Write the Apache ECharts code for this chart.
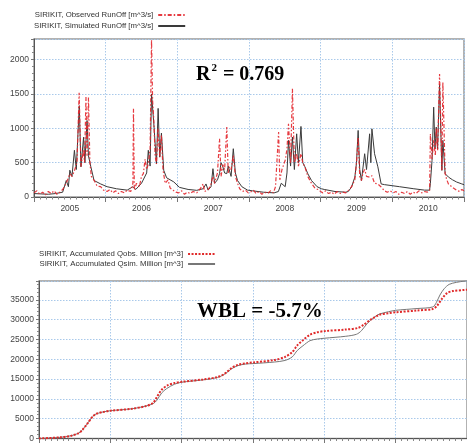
<!DOCTYPE html>
<html>
<head>
<meta charset="utf-8">
<script src="https://cdn.jsdelivr.net/npm/echarts@6/dist/echarts.min.js"></script>
<style>
html,body{margin:0;padding:0;background:#fff;}
#chart{width:467px;height:443px;}
</style>
</head>
<body>
<div id="chart"></div>
<script>
// ---- data (decimal year, value) ----
const years = [2005, 2006, 2007, 2008, 2009, 2010, 2011];

const runoffObs = [
[2005.00,60],[2005.04,90],[2005.08,40],[2005.12,70],[2005.16,30],[2005.20,80],[2005.24,50],[2005.28,90],[2005.32,40],[2005.36,70],[2005.40,110],
[2005.45,200],[2005.50,340],[2005.53,300],[2005.56,370],[2005.60,500],[2005.63,1517],[2005.655,440],[2005.69,680],[2005.705,500],[2005.725,1454],
[2005.74,600],[2005.76,1450],[2005.78,500],[2005.80,300],[2005.84,240],[2005.88,160],[2005.93,150],[2005.97,100],
[2006.02,80],[2006.06,110],[2006.10,60],[2006.14,90],[2006.18,50],[2006.22,80],[2006.26,60],[2006.30,100],[2006.35,80],[2006.38,200],[2006.388,1285],
[2006.40,100],[2006.43,200],[2006.47,150],[2006.50,300],[2006.526,340],[2006.55,550],[2006.572,400],[2006.595,480],[2006.62,700],[2006.64,2290],
[2006.655,1400],[2006.672,1114],[2006.69,600],[2006.709,480],[2006.73,1000],[2006.755,580],[2006.778,900],[2006.80,400],[2006.83,200],[2006.87,250],
[2006.90,130],[2006.94,100],[2006.98,70],
[2007.02,60],[2007.06,90],[2007.10,40],[2007.14,70],[2007.18,50],[2007.22,80],[2007.27,60],[2007.32,120],[2007.36,190],[2007.38,80],[2007.42,100],
[2007.46,150],[2007.497,300],[2007.52,200],[2007.56,350],[2007.589,848],[2007.61,300],[2007.635,470],[2007.66,400],[2007.69,1020],[2007.71,350],
[2007.726,440],[2007.75,400],[2007.781,605],[2007.81,300],[2007.84,200],[2007.87,120],[2007.91,80],[2007.95,100],[2007.99,60],
[2008.02,70],[2008.06,100],[2008.10,50],[2008.14,80],[2008.18,40],[2008.22,70],[2008.26,50],[2008.30,90],[2008.34,60],[2008.37,150],[2008.413,945],
[2008.43,250],[2008.46,400],[2008.505,534],[2008.53,700],[2008.551,1066],[2008.58,500],[2008.606,1574],[2008.633,500],[2008.665,630],[2008.69,450],
[2008.725,630],[2008.75,500],[2008.78,440],[2008.82,300],[2008.872,200],[2008.92,130],[2008.96,110],[2009.00,80],
[2009.03,60],[2009.07,90],[2009.11,50],[2009.15,70],[2009.19,40],[2009.23,80],[2009.27,50],[2009.31,70],[2009.35,60],[2009.39,100],[2009.431,150],
[2009.477,250],[2009.50,500],[2009.523,872],[2009.545,300],[2009.569,240],[2009.59,350],[2009.614,400],[2009.64,300],[2009.66,300],[2009.683,290],
[2009.715,310],[2009.752,200],[2009.798,190],[2009.844,145],[2009.89,90],[2009.93,70],[2009.97,90],
[2010.01,60],[2010.05,80],[2010.09,40],[2010.13,70],[2010.17,50],[2010.21,80],[2010.25,40],[2010.29,70],[2010.33,50],[2010.37,90],[2010.41,60],
[2010.45,80],[2010.485,70],[2010.52,90],[2010.531,920],[2010.554,550],[2010.577,824],[2010.60,600],[2010.613,1000],[2010.632,680],[2010.659,1792],
[2010.691,388],[2010.705,1671],[2010.737,340],[2010.76,250],[2010.783,190],[2010.84,140],[2010.897,97],[2010.94,80],[2010.97,110],[2011.00,90]
];

const runoffSim = [
[2005.00,50],[2005.10,45],[2005.20,40],[2005.30,50],[2005.40,70],[2005.45,240],[2005.48,150],[2005.50,390],[2005.53,300],[2005.564,680],[2005.59,400],
[2005.632,1330],[2005.655,440],[2005.692,870],[2005.71,500],[2005.74,1114],[2005.76,600],[2005.793,440],[2005.838,240],[2005.93,190],
[2006.02,150],[2006.15,120],[2006.30,100],[2006.38,150],[2006.42,110],[2006.50,200],[2006.526,190],[2006.572,350],[2006.595,680],[2006.62,450],
[2006.64,1500],[2006.672,1065],[2006.709,480],[2006.732,1290],[2006.755,580],[2006.778,930],[2006.81,390],[2006.85,280],[2006.95,220],
[2007.03,140],[2007.15,110],[2007.27,97],[2007.36,120],[2007.40,190],[2007.43,100],[2007.47,150],[2007.497,412],[2007.52,200],[2007.56,250],
[2007.589,340],[2007.61,500],[2007.635,440],[2007.66,350],[2007.69,340],[2007.71,450],[2007.75,300],[2007.781,703],[2007.81,350],[2007.84,240],
[2007.90,150],[2007.98,100],
[2008.05,90],[2008.20,70],[2008.35,60],[2008.41,80],[2008.45,200],[2008.505,150],[2008.53,350],[2008.551,824],[2008.58,450],[2008.606,872],
[2008.633,400],[2008.665,920],[2008.69,500],[2008.725,1027],[2008.75,500],[2008.78,440],[2008.82,340],[2008.872,240],[2008.95,150],
[2009.01,120],[2009.05,110],[2009.20,80],[2009.35,70],[2009.385,80],[2009.431,145],[2009.477,290],[2009.50,500],[2009.523,969],[2009.545,400],
[2009.569,240],[2009.614,630],[2009.64,400],[2009.66,380],[2009.683,920],[2009.70,500],[2009.715,993],[2009.752,630],[2009.798,440],[2009.844,190],
[2009.89,180],[2010.10,150],[2010.30,120],[2010.45,100],[2010.52,100],[2010.531,200],[2010.554,534],[2010.577,1308],[2010.595,700],[2010.613,1017],
[2010.632,700],[2010.659,1646],[2010.691,388],[2010.705,824],[2010.737,340],[2010.783,290],[2010.84,250],[2010.897,218],[2010.97,190],[2011.00,180]
];

const accumObs = [
[2005.00,0],[2005.30,300],[2005.45,700],[2005.55,1300],[2005.60,2000],[2005.68,3800],[2005.75,5500],[2005.80,6200],[2005.90,6700],[2006.00,7000],
[2006.30,7500],[2006.50,8200],[2006.60,9000],[2006.65,10400],[2006.72,12300],[2006.80,13400],[2006.90,14000],[2007.00,14300],[2007.30,14900],
[2007.50,15500],[2007.60,16300],[2007.70,17800],[2007.79,18600],[2007.90,19000],[2008.00,19200],[2008.30,19800],[2008.45,20600],[2008.55,21800],
[2008.62,23500],[2008.70,24800],[2008.80,26200],[2008.90,26800],[2009.00,27100],[2009.30,27500],[2009.47,27900],[2009.55,28700],[2009.65,30000],
[2009.77,31200],[2009.90,31600],[2010.00,31850],[2010.30,32300],[2010.52,32700],[2010.58,33500],[2010.65,35300],[2010.72,36700],[2010.80,37200],
[2010.97,37500],[2011.00,37550]
];

const accumSim = [
[2005.00,0],[2005.30,300],[2005.45,700],[2005.55,1300],[2005.60,2000],[2005.68,3800],[2005.75,5500],[2005.80,6200],[2005.90,6700],[2006.00,7000],
[2006.30,7500],[2006.50,8200],[2006.60,8800],[2006.65,9600],[2006.72,11500],[2006.79,12600],[2006.90,13700],[2007.00,14200],[2007.30,14800],
[2007.50,15400],[2007.60,16200],[2007.70,17600],[2007.79,18400],[2007.90,18800],[2008.00,18900],[2008.30,19300],[2008.45,19700],[2008.55,20600],
[2008.62,22200],[2008.70,23400],[2008.80,24700],[2008.90,25100],[2009.00,25300],[2009.30,25800],[2009.45,26300],[2009.52,27200],[2009.60,29000],
[2009.70,30600],[2009.77,31400],[2009.90,32000],[2010.00,32350],[2010.30,32800],[2010.52,33200],[2010.57,34300],[2010.62,36200],[2010.68,37800],
[2010.75,38900],[2010.85,39400],[2010.97,39750],[2011.00,39800]
];

const seriesNames = {
  obs: 'SIRIKIT, Observed RunOff [m^3/s]',
  sim: 'SIRIKIT, Simulated RunOff [m^3/s]',
  accObs: 'SIRIKIT, Accumulated Qobs. Million [m^3]',
  accSim: 'SIRIKIT, Accumulated Qsim. Million [m^3]'
};

// ---- styling ----
const font = 'Liberation Sans, Arial, sans-serif';
const gridLineStyle = {color: '#a9c9ea', type: [1.5, 1.5], width: 1};
const labelStyle = {color: '#444', fontSize: 8.5, fontFamily: font};

function xAxes(gridIndex, showLabels) {
  return [
    {
      type: 'value', gridIndex: gridIndex, position: 'bottom',
      min: years[0], max: years[years.length - 1], interval: 1,
      axisLine: {show: true, lineStyle: {color: '#555', width: 1}},
      axisTick: {show: true, length: 5, lineStyle: {color: '#777'}},
      minorTick: {show: true, splitNumber: 12, length: 2.5, lineStyle: {color: '#888'}},
      axisLabel: {show: false},
      splitLine: {show: true, lineStyle: gridLineStyle}
    },
    {
      type: 'value', gridIndex: gridIndex, position: 'bottom',
      min: years[0], max: years[years.length - 1], interval: 0.5,
      axisLine: {show: false}, axisTick: {show: false}, splitLine: {show: false},
      axisLabel: {
        show: showLabels, margin: 7, ...labelStyle,
        formatter: function (v) { return (Math.abs(v % 1 - 0.5) < 1e-6) ? String(Math.floor(v)) : ''; }
      }
    }
  ];
}

function yAxis(gridIndex, max, interval, minorSplit) {
  return {
    type: 'value', gridIndex: gridIndex, min: 0, max: max, interval: interval,
    axisLine: {show: true, lineStyle: {color: '#555', width: 1}},
    axisTick: {show: true, length: 3, lineStyle: {color: '#777'}},
    minorTick: {show: true, splitNumber: minorSplit, length: 2, lineStyle: {color: '#888'}},
    axisLabel: {showMaxLabel: false, margin: 5, ...labelStyle, formatter: function (v) { return String(v); }},
    splitLine: {show: true, lineStyle: gridLineStyle}
  };
}

const chart = echarts.init(document.getElementById('chart'), null, {renderer: 'canvas'});

const legendBase = {
  orient: 'vertical', align: 'right', itemGap: 2,
  itemWidth: 27, itemHeight: 8, padding: 0,
  itemStyle: {opacity: 0},
  textStyle: {color: '#333', fontSize: 7.8, fontFamily: font}
};

const option = {
  backgroundColor: '#fff',
  animation: false,
  grid: [
    {left: 34, top: 39, width: 435, height: 158, show: true, borderColor: '#999', borderWidth: 1.5, backgroundColor: '#fff'},
    {left: 39, top: 281, width: 431, height: 159, show: true, borderColor: '#999', borderWidth: 1.5, backgroundColor: '#fff'}
  ],
  title: [
    {
      left: 196, top: 63, padding: 0,
      text: '{a|R}{s|2}{a| = 0.769}',
      textStyle: {
        rich: {
          a: {fontFamily: 'Liberation Serif, Times New Roman, serif', fontWeight: 'bold', fontSize: 20, color: '#000', lineHeight: 24},
          s: {fontFamily: 'Liberation Serif, Times New Roman, serif', fontWeight: 'bold', fontSize: 11, color: '#000', verticalAlign: 'top', lineHeight: 24, padding: [0, 1, 8, 1]}
        }
      }
    },
    {
      left: 197, top: 300, padding: 0,
      text: 'WBL = -5.7%',
      textStyle: {fontFamily: 'Liberation Serif, Times New Roman, serif', fontWeight: 'bold', fontSize: 21, color: '#000', lineHeight: 24}
    }
  ],
  legend: [
    Object.assign({}, legendBase, {
      left: 34, top: 11, itemGap: 3,
      textStyle: Object.assign({}, legendBase.textStyle, {width: 123}),
      data: [seriesNames.obs, seriesNames.sim]
    }),
    Object.assign({}, legendBase, {
      left: 39, top: 250,
      textStyle: Object.assign({}, legendBase.textStyle, {width: 146}),
      data: [seriesNames.accObs, seriesNames.accSim]
    })
  ],
  xAxis: [...xAxes(0, true), ...xAxes(1, false)],
  yAxis: [yAxis(0, 2300, 500, 5), yAxis(1, 39750, 5000, 5)],
  series: [
    {
      name: seriesNames.sim, type: 'line', xAxisIndex: 0, yAxisIndex: 0,
      data: runoffSim, showSymbol: false, symbol: 'none',
      lineStyle: {color: '#3a3a3a', width: 1}, itemStyle: {color: '#3a3a3a'}, z: 2
    },
    {
      name: seriesNames.obs, type: 'line', xAxisIndex: 0, yAxisIndex: 0,
      data: runoffObs, showSymbol: false, symbol: 'none',
      lineStyle: {color: '#e3262c', width: 1.2, type: [4, 2, 1.5, 2], opacity: 0.9}, itemStyle: {color: '#e3262c'}, z: 3
    },
    {
      name: seriesNames.accObs, type: 'line', xAxisIndex: 2, yAxisIndex: 1,
      data: accumObs, showSymbol: false, symbol: 'none', smooth: 0.3,
      lineStyle: {color: '#e02a2a', width: 2, type: [2, 1.5]}, itemStyle: {color: '#e02a2a'}, z: 3
    },
    {
      name: seriesNames.accSim, type: 'line', xAxisIndex: 2, yAxisIndex: 1,
      data: accumSim, showSymbol: false, symbol: 'none', smooth: 0.3,
      lineStyle: {color: '#777', width: 1}, itemStyle: {color: '#777'}, z: 2
    }
  ]
};
chart.setOption(option);
</script>
</body>
</html>
